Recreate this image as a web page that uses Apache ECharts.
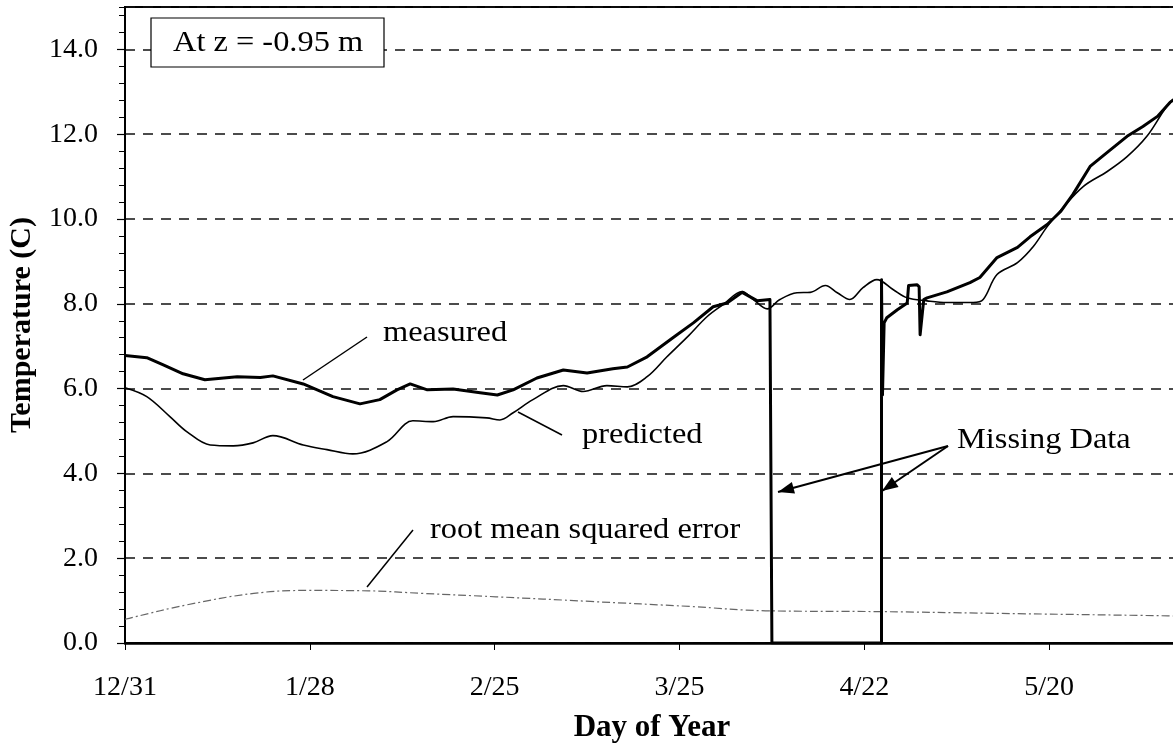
<!DOCTYPE html>
<html>
<head>
<meta charset="utf-8">
<script src="https://cdn.jsdelivr.net/npm/echarts@6/dist/echarts.min.js"></script>
<style>
html,body{margin:0;padding:0;background:#fff;}
#chart{width:1173px;height:747px;}
</style>
</head>
<body>
<div id="chart"></div>
<script>
// ---- data (x = days after 12/31) ----
const tickLabels = ['12/31','1/28','2/25','3/25','4/22','5/20','6/17'];

const measuredDays = [0,3.3,5.8,8.8,12.1,17.0,20.5,22.4,27.0,31.5,35.6,38.6,41.2,43.2,45.8,49.7,53.8,56.4,58.8,62.4,66.4,70.0,73.9,76.1,79.1,83.0,86.1,89.1,91.2,93.5,95.8,97.7,
  98.0,98.0,114.6,114.6,114.75,115.0,115.4,117.0,118.5,118.7,120.0,120.3,120.45,121.0,121.5,124.5,128.0,129.5,132.1,135.2,137.1,139.7,141.7,143.6,146.2,148.8,151.8,154.2,156.4,158.3,160.0];
const measuredTemps = [6.78,6.73,6.56,6.35,6.21,6.28,6.26,6.30,6.11,5.81,5.64,5.74,5.97,6.11,5.97,5.99,5.90,5.85,5.97,6.25,6.44,6.37,6.47,6.51,6.75,7.20,7.55,7.93,8.02,8.27,8.07,8.10,
  8.07,0,0,8.57,5.85,7.55,7.67,7.86,8.02,8.43,8.45,8.40,7.27,8.10,8.14,8.28,8.50,8.62,9.09,9.33,9.58,9.87,10.17,10.58,11.24,11.57,11.95,12.18,12.42,12.75,12.95];

const predictedDays = [0,3.3,6.8,9.4,12.9,16.4,19.4,22.4,27.0,30.6,34.5,39.7,43.6,46.7,49.7,54.8,56.8,58.8,61.8,66.4,69.4,73.0,76.1,79.1,82.1,85.2,88.2,90.6,93.5,95.2,97.3,99.2,101.8,103.8,106.1,107.9,109.8,111.8,113.9,116.4,118.5,121.5,124.5,128.5,130.0,132.1,135.2,137.6,139.7,142.1,145.2,148.8,151.8,154.8,157.3,158.3,160.0];
const predictedTemps = [6.02,5.81,5.34,4.98,4.67,4.65,4.72,4.89,4.67,4.56,4.46,4.75,5.24,5.22,5.34,5.31,5.26,5.43,5.74,6.07,5.93,6.07,6.04,6.28,6.75,7.22,7.70,7.98,8.29,8.10,7.88,8.10,8.26,8.27,8.43,8.26,8.10,8.38,8.57,8.33,8.14,8.07,8.03,8.03,8.10,8.69,8.97,9.35,9.82,10.27,10.77,11.12,11.47,11.95,12.54,12.75,12.95];

const rmseDays = [0,1.3,9.4,19.5,27.7,36.9,45.0,56.2,70.5,85.8,97.0,114.2,131.5,158.0,160.0];
const rmseValues = [0.56,0.61,0.90,1.17,1.24,1.23,1.17,1.09,0.98,0.86,0.76,0.74,0.70,0.64,0.63];

const zip = (xs, ys) => xs.map((x, i) => [x, ys[i]]);

const SERIF = '"Liberation Serif","Times New Roman",serif';
const chart = echarts.init(document.getElementById('chart'), null, {renderer: 'canvas'});

function arrowHead(x1, y1, x2, y2, len, half) {
  const a = Math.atan2(y2 - y1, x2 - x1);
  const bx = x2 - len * Math.cos(a), by = y2 - len * Math.sin(a);
  const px = -Math.sin(a) * half, py = Math.cos(a) * half;
  return [[x2, y2], [bx + px, by + py], [bx - px, by - py]];
}
const arrowStart = [948, 446];
const arrowEnds = [[778, 492], [882, 491]];

function label(text, x, y) {
  return {type: 'text', x: x, y: y, scaleX: 1.08, scaleY: 1,
    style: {text: text, font: '30px ' + SERIF, fill: '#000', textVerticalAlign: 'middle'}, z: 51};
}

const graphics = [
  {type: 'rect', shape: {x: 151, y: 18, width: 233, height: 49}, style: {fill: '#fff', stroke: '#000', lineWidth: 1.2}, z: 50},
  label('At z = -0.95 m', 173, 43),
  label('measured', 383, 333),
  {type: 'line', shape: {x1: 367, y1: 337, x2: 303, y2: 380}, style: {stroke: '#000', lineWidth: 1.5}, z: 51},
  label('predicted', 582, 435),
  {type: 'line', shape: {x1: 562, y1: 435, x2: 518, y2: 412}, style: {stroke: '#000', lineWidth: 1.5}, z: 51},
  label('root mean squared error', 430, 530),
  {type: 'line', shape: {x1: 413, y1: 530, x2: 367, y2: 587}, style: {stroke: '#000', lineWidth: 1.5}, z: 51},
  label('Missing Data', 957, 440),
  {type: 'text', x: 652, y: 728, style: {text: 'Day of Year', font: 'bold 31px ' + SERIF, fill: '#000', textAlign: 'center', textVerticalAlign: 'middle'}, z: 51}
];
arrowEnds.forEach(e => {
  graphics.push({type: 'line', shape: {x1: arrowStart[0], y1: arrowStart[1], x2: e[0], y2: e[1]}, style: {stroke: '#000', lineWidth: 2}, z: 51});
  graphics.push({type: 'polygon', shape: {points: arrowHead(arrowStart[0], arrowStart[1], e[0], e[1], 16, 6)}, style: {fill: '#000'}, z: 51});
});

const option = {
  animation: false,
  backgroundColor: '#fff',
  grid: {left: 125, top: 7, right: -61, bottom: 104, containLabel: false, outerBoundsMode: 'none',
    show: true, borderColor: '#000', borderWidth: 2, backgroundColor: 'transparent'},
  xAxis: {
    type: 'value', min: 0, max: 168, interval: 28,
    axisLine: {show: true, onZero: false, lineStyle: {color: '#000', width: 2.5}},
    axisTick: {show: true, length: 7, lineStyle: {color: '#000', width: 1}},
    axisLabel: {margin: 31, color: '#000', fontFamily: SERIF, fontSize: 28,
      formatter: v => tickLabels[Math.round(v / 28)] || ''},
    splitLine: {show: false}
  },
  yAxis: [{
    type: 'value', min: 0, max: 15, interval: 2,
    axisLine: {show: true, onZero: false, lineStyle: {color: '#000', width: 2}},
    axisTick: {show: true, length: 8, lineStyle: {color: '#000', width: 1.2}},
    axisLabel: {margin: 27, color: '#000', fontFamily: SERIF, fontSize: 28, showMaxLabel: false,
      formatter: v => (v % 2 === 0 ? v.toFixed(1) : '')},
    splitLine: {show: true, lineStyle: {color: '#111', width: 1.5, type: [10, 8]}},
    name: 'Temperature (C)', nameLocation: 'middle', nameGap: 88,
    nameTextStyle: {fontFamily: SERIF, fontSize: 30, fontWeight: 'bold', color: '#000'}
  }, {
    type: 'value', min: 0, max: 15, interval: 0.4, position: 'left',
    axisLine: {show: false}, axisLabel: {show: false}, splitLine: {show: false},
    axisTick: {show: true, length: 6, lineStyle: {color: '#000', width: 1}}
  }],
  series: [
    {name: 'rmse', type: 'line', data: zip(rmseDays, rmseValues), showSymbol: false, smooth: 0.4,
      lineStyle: {color: '#666', width: 1.2, type: [8, 3, 2, 3]}, z: 3},
    {name: 'predicted', type: 'line', data: zip(predictedDays, predictedTemps), showSymbol: false, smooth: 0.35,
      lineStyle: {color: '#000', width: 1.6}, z: 4},
    {name: 'measured', type: 'line', data: zip(measuredDays, measuredTemps), showSymbol: false, smooth: false,
      lineStyle: {color: '#000', width: 3, join: 'round'}, z: 5}
  ],
  graphic: graphics
};
chart.setOption(option);
</script>
</body>
</html>
